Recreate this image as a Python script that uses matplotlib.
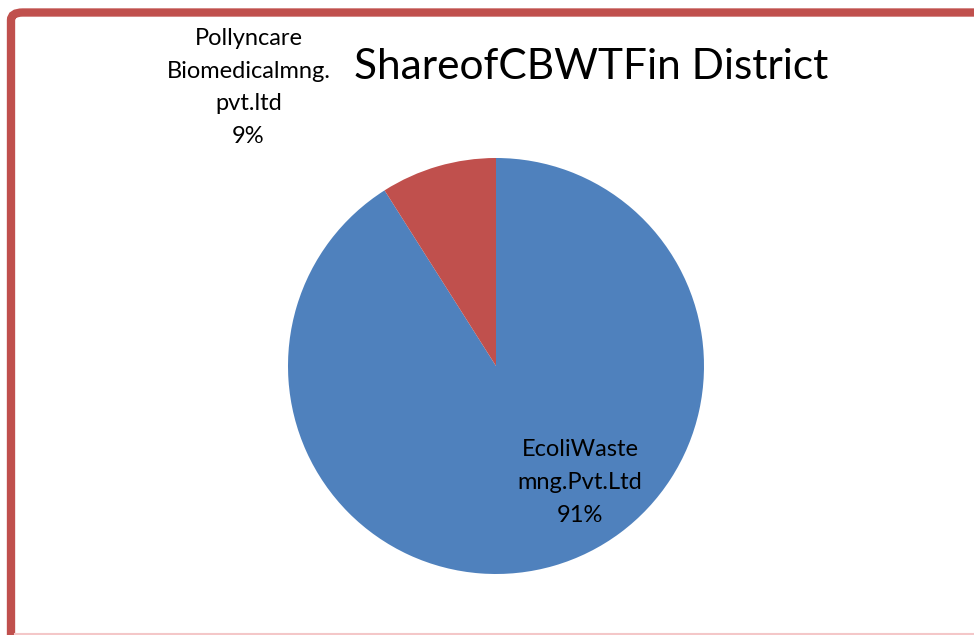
"""
Pie chart: share of CBWTF in district
"""

import matplotlib
matplotlib.use("Agg")
import matplotlib.pyplot as plt
from matplotlib.patches import FancyBboxPatch
from matplotlib.lines import Line2D

# data
companies = ["EcoliWaste\nmng.Pvt.Ltd", "Pollyncare\nBiomedicalmng.\npvt.ltd"]
shares = [91, 9]
colours = ["#4F81BD", "#C0504D"]

plt.rcParams['font.family'] = ['Lato', 'DejaVu Sans']

W, H = 974, 635
fig = plt.figure(figsize=(W / 100, H / 100), dpi=100)

# frame of the chart area (only left / top visible, rest cut off)
frame = FancyBboxPatch((11 / W, -0.2), 1.2, 1 - 12.5 / H + 0.2,
                       boxstyle="round,pad=0,rounding_size=0.012",
                       transform=fig.transFigure, fill=False,
                       edgecolor="#C0504D", linewidth=6, zorder=0)
fig.patches.append(frame)
fig.lines.append(Line2D([15 / W, 1], [1.5 / H, 1.5 / H], transform=fig.transFigure,
                        color="#F4C7C8", linewidth=1.5))

# pie placement
cx, cy, r = 496, 366, 208
ax = fig.add_axes([(cx - r) / W, 1 - (cy + r) / H, 2 * r / W, 2 * r / H])
ax.pie(shares, colors=colours, startangle=90, counterclock=False, radius=1,
       wedgeprops=dict(linewidth=0))
ax.set_xlim(-1, 1)
ax.set_ylim(-1, 1)
ax.set_aspect("equal")
ax.axis("off")

# data labels
label_pos = [(0.405, -0.56), (-1.19, 1.34)]
for name, val, (lx, ly) in zip(companies, shares, label_pos):
    ax.text(lx, ly, name + "\n" + str(val) + "%", ha="center", va="center",
            fontsize=17, linespacing=1.68, color="black", clip_on=False)

fig.text(591 / W, 1 - 67 / H, "ShareofCBWTFin District", ha="center", va="center",
         fontsize=30.5, color="black")

fig.savefig("out.png", dpi=100)
